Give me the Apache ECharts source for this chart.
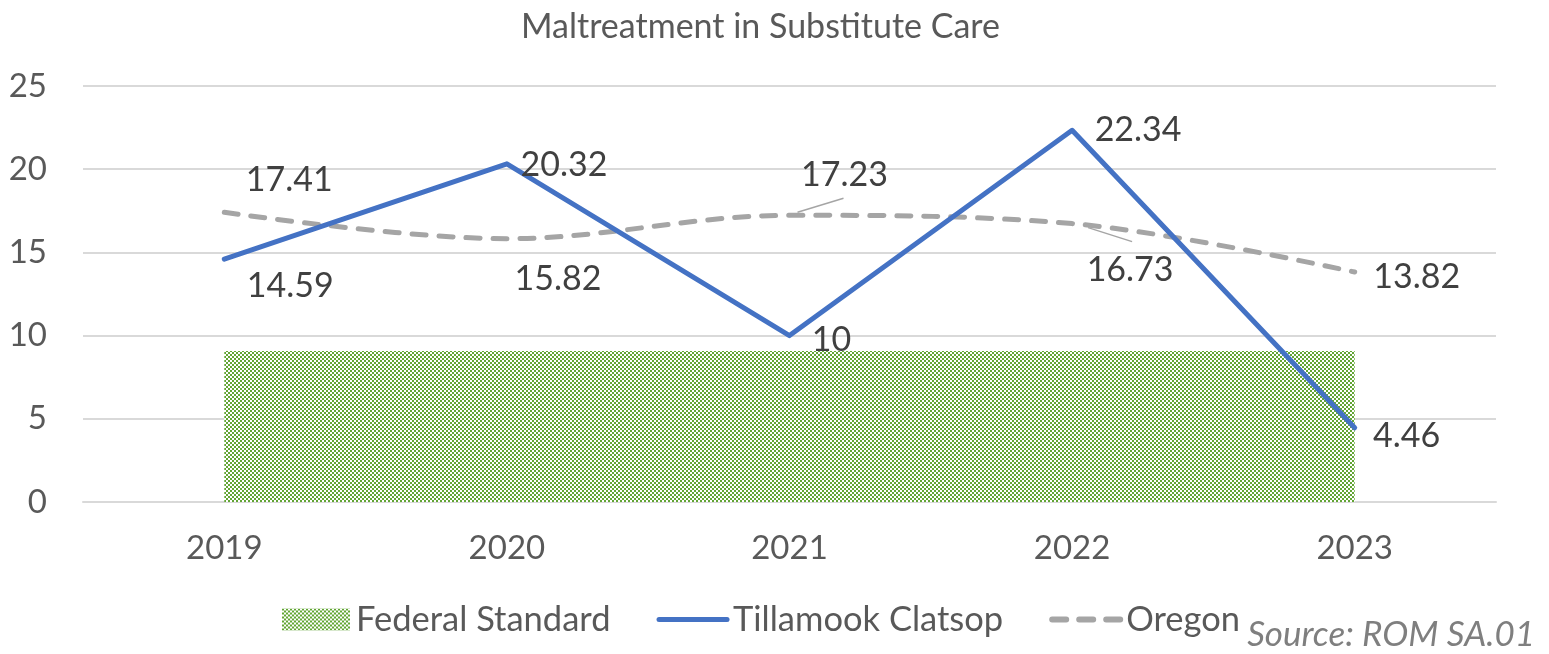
<!DOCTYPE html>
<html>
<head>
<meta charset="utf-8">
<script src="https://cdn.jsdelivr.net/npm/echarts@6/dist/echarts.min.js"></script>
<style>
  html, body { margin: 0; padding: 0; background: #fff; }
  #chart { width: 1549px; height: 654px; }
</style>
</head>
<body>
<div id="chart"></div>
<script>
// data
const years = ['2019', '2020', '2021', '2022', '2023'];
const federalStandard = [9.07, 9.07, 9.07, 9.07, 9.07];
const tillamook = [14.59, 20.32, 10, 22.34, 4.46];
const oregon = [17.41, 15.82, 17.23, 16.73, 13.82];
const yTicks = [0, 5, 10, 15, 20, 25];

// label offsets (pixels, from the point to the label centre)
const tillOffsets = [[66, 27], [57, 1], [42, 4], [66, 0], [52, 8]];
const oreOffsets = [[65, -32], [51, 40], [55, -40], [58, 46], [62, 5]];
// leader lines for two Oregon labels: [index, start offset, end offset]
const oreLeaders = [[2, [8, -3], [54, -17]], [3, [16, 4], [60, 18]]];

const FONT = 'Lato';
const DASH = [14, 13];

// green checker pattern like the excel fill
function makePattern() {
  const c = document.createElement('canvas');
  c.width = 4; c.height = 4;
  const g = c.getContext('2d');
  g.fillStyle = '#ffffff';
  g.fillRect(0, 0, 4, 4);
  g.fillStyle = '#62a534';
  g.fillRect(0, 0, 2, 2);
  g.fillRect(2, 2, 2, 2);
  return { image: c, repeat: 'repeat' };
}
const pattern = makePattern();

const chart = echarts.init(document.getElementById('chart'));

const labelBase = {
  show: true,
  position: 'inside',
  fontFamily: FONT,
  fontSize: 34,
  color: '#404040'
};

chart.setOption({
  animation: false,
  title: {
    text: 'Maltreatment in Substitute Care',
    left: 516,
    top: 5,
    textStyle: { fontFamily: FONT, fontSize: 34, fontWeight: 'normal', color: '#595959' }
  },
  grid: { left: 83, right: 53, top: 86, bottom: 152 },
  legend: {
    bottom: 12,
    left: 277,
    itemWidth: 68,
    itemHeight: 22,
    itemGap: 46,
    textStyle: { fontFamily: FONT, fontSize: 34.5, color: '#595959', padding: [0, 0, 0, 1] },
    data: [
      { name: 'Federal Standard', icon: 'rect', itemStyle: { color: pattern } },
      { name: 'Tillamook Clatsop', itemStyle: { opacity: 0 }, lineStyle: { width: 5 } },
      { name: 'Oregon', itemStyle: { opacity: 0 }, lineStyle: { width: 6, type: DASH, cap: 'round' } }
    ]
  },
  xAxis: {
    type: 'category',
    data: years,
    boundaryGap: true,
    axisLine: { lineStyle: { color: '#d9d9d9', width: 2 } },
    axisTick: { show: false },
    axisLabel: { fontFamily: FONT, fontSize: 33, color: '#595959', margin: 30 }
  },
  yAxis: {
    type: 'value',
    min: yTicks[0],
    max: yTicks[yTicks.length - 1],
    interval: 5,
    axisLine: { show: false },
    axisTick: { show: false },
    splitLine: { lineStyle: { color: '#d9d9d9', width: 2 } },
    axisLabel: { fontFamily: FONT, fontSize: 33, color: '#595959', margin: 36 }
  },
  series: [
    {
      name: 'Federal Standard',
      type: 'line',
      data: federalStandard,
      symbol: 'none',
      lineStyle: { width: 0 },
      itemStyle: { color: pattern },
      areaStyle: { color: pattern, opacity: 1 },
      z: 1
    },
    {
      name: 'Tillamook Clatsop',
      type: 'line',
      data: tillamook.map((v, i) => ({
        value: v,
        label: Object.assign({}, labelBase, { offset: tillOffsets[i] })
      })),
      symbol: 'circle',
      symbolSize: 0,
      itemStyle: { color: '#4472c4' },
      lineStyle: { color: '#4472c4', width: 5, cap: 'round', join: 'round' },
      label: labelBase,
      z: 3
    },
    {
      name: 'Oregon',
      type: 'line',
      smooth: 0.35,
      data: oregon.map((v, i) => ({
        value: v,
        label: Object.assign({}, labelBase, { offset: oreOffsets[i] })
      })),
      symbol: 'circle',
      symbolSize: 0,
      itemStyle: { color: '#a5a5a5' },
      lineStyle: { color: '#a5a5a5', width: 5, type: DASH, cap: 'round' },
      label: labelBase,
      z: 2
    },
    {
      // thin leader lines from the Oregon points to their labels
      name: 'leaders',
      type: 'custom',
      silent: true,
      data: oreLeaders.map(l => [l[0], oregon[l[0]]]),
      renderItem: function (params, api) {
        const p = api.coord([api.value(0), api.value(1)]);
        const l = oreLeaders[params.dataIndex];
        return {
          type: 'line',
          shape: {
            x1: p[0] + l[1][0], y1: p[1] + l[1][1],
            x2: p[0] + l[2][0], y2: p[1] + l[2][1]
          },
          style: { stroke: '#a5a5a5', lineWidth: 1.5 }
        };
      },
      z: 4
    }
  ],
  graphic: [
    {
      type: 'text',
      right: 14,
      bottom: 2,
      style: {
        text: 'Source: ROM SA.01',
        fontFamily: FONT,
        fontStyle: 'italic',
        fontSize: 35,
        fill: '#7f7f7f'
      }
    }
  ]
});
</script>
</body>
</html>
